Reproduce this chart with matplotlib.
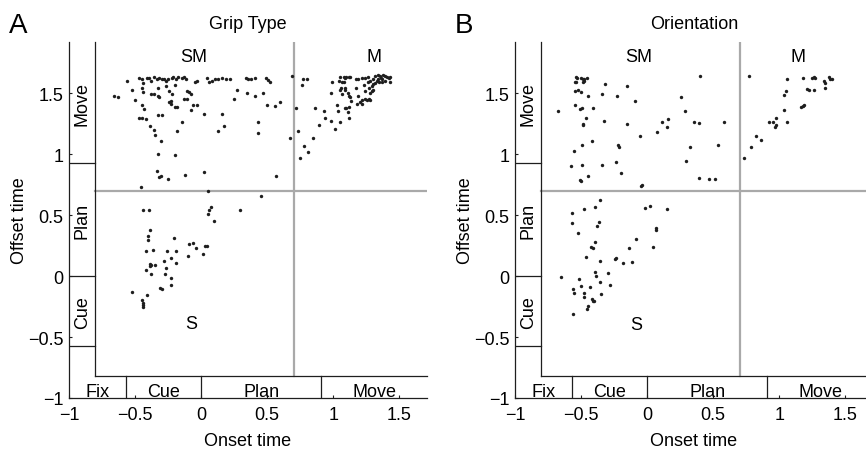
import numpy as np
import matplotlib
matplotlib.use("Agg")
import matplotlib.pyplot as plt

plt.rcParams['font.family'] = ['Liberation Sans', 'DejaVu Sans']
plt.rcParams['font.size'] = 13

# --- data: onset / offset times of individual units (s) ---
grip_x = [
    -0.56, -0.467, -0.45, -0.437, -0.41, -0.394, -0.381, -0.356, -0.336, -0.316, -0.298, -0.28,
    -0.265, -0.248, -0.222, -0.21, -0.19, -0.172, -0.146, -0.129, -0.116, -0.045, -0.033,
    0.048, 0.063, 0.081, 0.106, 0.131, 0.157, 0.189, 0.215, 0.341, 0.358, 0.376, 0.409,
    0.492, 0.51, 0.523, 0.687,
    -0.525, -0.66, -0.63, -0.50, -0.45, -0.44, -0.45, -0.43, -0.38, -0.36, -0.33, -0.32, -0.33,
    -0.265, -0.245, -0.22, -0.20, -0.245, -0.23, -0.23, -0.20, -0.185, -0.13, -0.11, -0.09,
    -0.08, -0.11, -0.06, -0.03, -0.08, 0.025, -0.33, -0.295, -0.47, -0.45, -0.42, -0.145,
    -0.39, -0.36, -0.35, -0.18, -0.30, -0.33, -0.20, -0.335, -0.315, -0.30, -0.25, -0.125,
    0.02, -0.455,
    0.27, 0.25, 0.346, 0.41, 0.467, 0.50, 0.558, 0.60, 0.157, 0.177, 0.126, 0.43, 0.43,
    0.674, 0.717, 0.73, 0.745, 0.57,
    0.775, 0.80, 0.763, 0.86, 0.93, 0.937, 0.89, 0.98, 1.013, 1.048, 0.846, 0.78, 0.81, 0.99,
    0.985, 1.03, 1.035, 1.053, 1.078, 1.09, 1.10, 1.12, 1.13, 1.045, 1.066, 1.083, 1.048,
    1.058, 1.09, 1.086, 1.066, 1.11, 1.116, 1.13, 1.136, 1.086, 1.10, 1.116, 1.11, 1.12,
    1.18, 1.22, 1.19, 1.217, 1.205, 1.174, 1.19, 1.217, 1.24, 1.26, 1.174, 1.235, 1.24,
    1.26, 1.28, 1.27, 1.29, 1.305, 1.28, 1.29, 1.305, 1.24, 1.255, 1.27, 1.28, 1.305, 1.318,
    1.336, 1.356, 1.376, 1.394, 1.407, 1.42, 1.432, 1.427, 1.394, 1.369, 1.331, 1.318, 1.34,
    1.36, 1.35, 1.37,
    0.05, 0.45, -0.437, -0.396, 0.05, 0.056, 0.076, 0.295, 0.098, -0.389, -0.40, -0.404,
    -0.207, -0.09, -0.06, -0.038, 0.033, 0.043, -0.42, -0.366, -0.26, -0.19, -0.10, 0.015,
    -0.227, -0.28, -0.19, -0.384, -0.376, -0.39, -0.348, -0.42, -0.265, -0.376, -0.273,
    -0.23, -0.23, -0.31, -0.295, -0.52, -0.41, -0.447, -0.44, -0.44, -0.437,
]
grip_y = [
    1.60, 1.626, 1.615, 1.587, 1.628, 1.626, 1.60, 1.637, 1.615, 1.628, 1.615, 1.62,
    1.60, 1.615, 1.628, 1.637, 1.62, 1.637, 1.628, 1.637, 1.615, 1.593, 1.60,
    1.628, 1.593, 1.60, 1.62, 1.615, 1.626, 1.62, 1.62, 1.628, 1.615, 1.62, 1.626,
    1.626, 1.61, 1.593, 1.642,
    1.53, 1.475, 1.465, 1.445, 1.54, 1.51, 1.40, 1.37, 1.49, 1.49, 1.48, 1.47, 1.54,
    1.56, 1.52, 1.49, 1.57, 1.43, 1.435, 1.41, 1.39, 1.39, 1.455, 1.52, 1.51,
    1.49, 1.455, 1.40, 1.40, 1.36, 1.33, 1.325, 1.325, 1.30, 1.30, 1.29, 1.265,
    1.23, 1.20, 1.16, 1.19, 1.11, 1.00, 0.99, 0.865, 0.81, 0.82, 0.80, 0.83,
    0.855, 0.73,
    1.527, 1.455, 1.50, 1.475, 1.50, 1.40, 1.396, 1.43, 1.33, 1.23, 1.186, 1.26, 1.175,
    1.13, 1.38, 1.19, 0.965, 0.825,
    1.62, 1.615, 1.566, 1.377, 1.35, 1.30, 1.24, 1.27, 1.205, 1.265, 1.13, 1.07, 1.02, 1.59,
    1.505, 1.40, 1.355, 1.63, 1.63, 1.625, 1.63, 1.63, 1.637, 1.60, 1.59, 1.59, 1.53,
    1.546, 1.546, 1.527, 1.49, 1.505, 1.478, 1.465, 1.437, 1.375, 1.375, 1.388, 1.347, 1.295,
    1.41, 1.41, 1.473, 1.445, 1.43, 1.615, 1.62, 1.628, 1.628, 1.637, 1.546, 1.566, 1.52,
    1.59, 1.60, 1.546, 1.56, 1.574, 1.505, 1.52, 1.527, 1.45, 1.445, 1.45, 1.445, 1.62, 1.642,
    1.647, 1.642, 1.647, 1.642, 1.637, 1.628, 1.637, 1.593, 1.60, 1.615, 1.60, 1.587, 1.62,
    1.625, 1.59, 1.595,
    0.694, 0.653, 0.54, 0.54, 0.508, 0.543, 0.563, 0.543, 0.453, 0.377, 0.325, 0.293,
    0.314, 0.262, 0.268, 0.232, 0.246, 0.246, 0.205, 0.213, 0.202, 0.202, 0.164, 0.18,
    0.148, 0.12, 0.107, 0.10, 0.093, 0.08, 0.088, 0.052, 0.068, 0.014, 0.019,
    -0.014, -0.074, -0.098, -0.104, -0.131, -0.156, -0.20, -0.22, -0.24, -0.254,
]

orient_x = [
    -0.541, -0.528, -0.498, -0.486, -0.474, -0.456, -0.474, -0.486, -0.549, -0.536,
    0.398, -0.316, -0.153, -0.544, -0.524, -0.498, -0.34, -0.451, -0.23, -0.095, 0.253,
    -0.671, -0.544, -0.511, -0.491, -0.411, -0.466, 0.286, -0.486, -0.486, -0.328, -0.15,
    0.115, 0.155, 0.153, 0.073, 0.353, 0.391, 0.579, -0.055, -0.419, -0.494, -0.218, -0.216,
    0.321, 0.539, -0.554, 0.291, -0.577, -0.491, -0.34, -0.233, -0.195, -0.446, -0.506,
    -0.501, -0.035, -0.045, 0.396, 0.466, 0.511,
    -0.358, -0.474, -0.391, -0.569, -0.566, -0.361, -0.378, -0.526, -0.391, -0.421, -0.411,
    -0.466, -0.353, -0.013, 0.023, 0.148, 0.068, 0.065, -0.083, -0.135, 0.043, -0.241,
    -0.233, -0.186, -0.113, -0.652, -0.519, -0.391, -0.389, -0.293, -0.498, -0.431, -0.353,
    -0.278, -0.559, -0.554, -0.474, -0.474, -0.419, -0.404, -0.411, -0.348, -0.451, -0.456,
    -0.559,
    0.774, 1.06, 1.18, 1.25, 1.263, 1.268, 1.338, 1.343, 1.343, 1.376, 1.388, 1.403, 1.05,
    1.038, 1.21, 1.226, 1.26, 1.038, 1.168, 1.18, 1.188, 0.975, 0.925, 0.955, 0.975, 0.967,
    1.062, 0.822, 0.862, 0.787, 0.735,
]
orient_y = [
    1.637, 1.628, 1.628, 1.62, 1.62, 1.623, 1.60, 1.593, 1.596, 1.596,
    1.642, 1.574, 1.56, 1.514, 1.527, 1.51, 1.497, 1.478, 1.478, 1.44, 1.465,
    1.35, 1.407, 1.369, 1.377, 1.375, 1.30, 1.358, 1.25, 1.238, 1.273, 1.25,
    1.265, 1.287, 1.219, 1.178, 1.26, 1.254, 1.26, 1.145, 1.109, 1.079, 1.074, 1.057,
    1.06, 1.079, 1.027, 0.948, 0.904, 0.915, 0.91, 0.932, 0.847, 0.822, 0.79,
    0.78, 0.748, 0.735, 0.806, 0.795, 0.795,
    0.62, 0.549, 0.566, 0.519, 0.434, 0.44, 0.412, 0.35, 0.281, 0.24, 0.227,
    0.156, 0.123, 0.557, 0.576, 0.552, 0.391, 0.374, 0.303, 0.227, 0.24, 0.139,
    0.15, 0.107, 0.115, -0.011, -0.022, 0.033, 0.0, 0.022, -0.079, -0.09, -0.049,
    -0.076, -0.104, -0.137, -0.139, -0.175, -0.189, -0.202, -0.208, -0.145, -0.249, -0.27,
    -0.309,
    1.642, 1.62, 1.626, 1.628, 1.637, 1.628, 1.60, 1.582, 1.546, 1.637, 1.62, 1.615, 1.52,
    1.484, 1.533, 1.527, 1.527, 1.363, 1.383, 1.396, 1.40, 1.30, 1.265, 1.26, 1.238, 1.219,
    1.26, 1.145, 1.117, 1.06, 0.967,
]

# task epochs
x_events = [-0.565, 0, 0.91]
y_events = [-0.576, 0, 0.924]
x_epochs = ['Fix', 'Cue', 'Plan', 'Move']
y_epochs = ['Cue', 'Plan', 'Move']
boundary = 0.7

tick_vals = [-1, -0.5, 0, 0.5, 1, 1.5]
tick_text = ['\u22121', '\u22120.5', '0', '0.5', '1', '1.5']

panels = [
    dict(letter='A', title='Grip Type', x=grip_x, y=grip_y, left=69,
         sm=(-0.057, 1.80), m=(1.307, 1.80), s=(-0.076, -0.39)),
    dict(letter='B', title='Orientation', x=orient_x, y=orient_y, left=515,
         sm=(-0.06, 1.80), m=(1.14, 1.80), s=(-0.08, -0.40)),
]

W, H = 866, 456
fig = plt.figure(figsize=(W / 100, H / 100), dpi=100)

XMIN, XMAX = -1, 1.71
YMIN, YMAX = -1, 1.92
X_IN, Y_IN = -0.8, -0.822
gray = '#a9a9a9'
ink = '#1e1e1e'
fs = 13

for p in panels:
    ax = fig.add_axes([p['left'] / W, 1 - 399 / H, 358 / W, 356 / H])
    ax.set_xlim(XMIN, XMAX)
    ax.set_ylim(YMIN, YMAX)
    for side in ['top', 'right']:
        ax.spines[side].set_visible(False)
    for side in ['left', 'bottom']:
        ax.spines[side].set_linewidth(0.9)
        ax.spines[side].set_color(ink)

    # inner frame + epoch bands
    ax.plot([X_IN, X_IN], [Y_IN, YMAX], color=ink, lw=0.9, clip_on=False)
    ax.plot([X_IN, XMAX], [Y_IN, Y_IN], color=ink, lw=0.9, clip_on=False)
    for e in x_events:
        ax.plot([e, e], [YMIN, Y_IN], color=ink, lw=0.9)
    for e in y_events:
        ax.plot([XMIN, X_IN], [e, e], color=ink, lw=0.9)

    xb = [XMIN] + x_events + [XMAX]
    for i, lab in enumerate(x_epochs):
        ax.text((xb[i] + xb[i + 1]) / 2, -0.98, lab, ha='center', va='baseline', fontsize=fs)
    yb = y_events + [YMAX]
    for i, lab in enumerate(y_epochs):
        ax.text(-0.9, (yb[i] + yb[i + 1]) / 2, lab, rotation=90, ha='center', va='center',
                fontsize=fs)

    # SM / M / S boundaries
    ax.plot([boundary, boundary], [Y_IN, YMAX], color=gray, lw=1.6, zorder=1)
    ax.plot([X_IN, XMAX], [boundary, boundary], color=gray, lw=1.6, zorder=1)

    ax.scatter(p['x'], p['y'], s=6, color=ink, linewidths=0, zorder=3)

    ax.text(*p['sm'], 'SM', ha='center', va='center', fontsize=fs)
    ax.text(*p['m'], 'M', ha='center', va='center', fontsize=fs)
    ax.text(*p['s'], 'S', ha='center', va='center', fontsize=fs)

    ax.set_xticks(tick_vals)
    ax.set_xticklabels(tick_text)
    ax.set_yticks(tick_vals)
    ax.set_yticklabels(tick_text)
    ax.tick_params(direction='in', length=2.5, width=0.8, color=ink, labelsize=fs)
    ax.tick_params(axis='x', pad=6)
    ax.tick_params(axis='y', pad=4)

    ax.set_xlabel('Onset time', fontsize=fs)
    ax.set_ylabel('Offset time', fontsize=fs)
    ax.xaxis.set_label_coords(0.5, -0.095)
    ax.yaxis.set_label_coords(-0.115, 0.5)
    ax.set_title(p['title'], fontsize=fs, pad=10)

    fig.text((p['left'] - 60) / W, 1 - 33 / H, p['letter'], fontsize=20, va='baseline')

fig.savefig('out.png', dpi=100)
